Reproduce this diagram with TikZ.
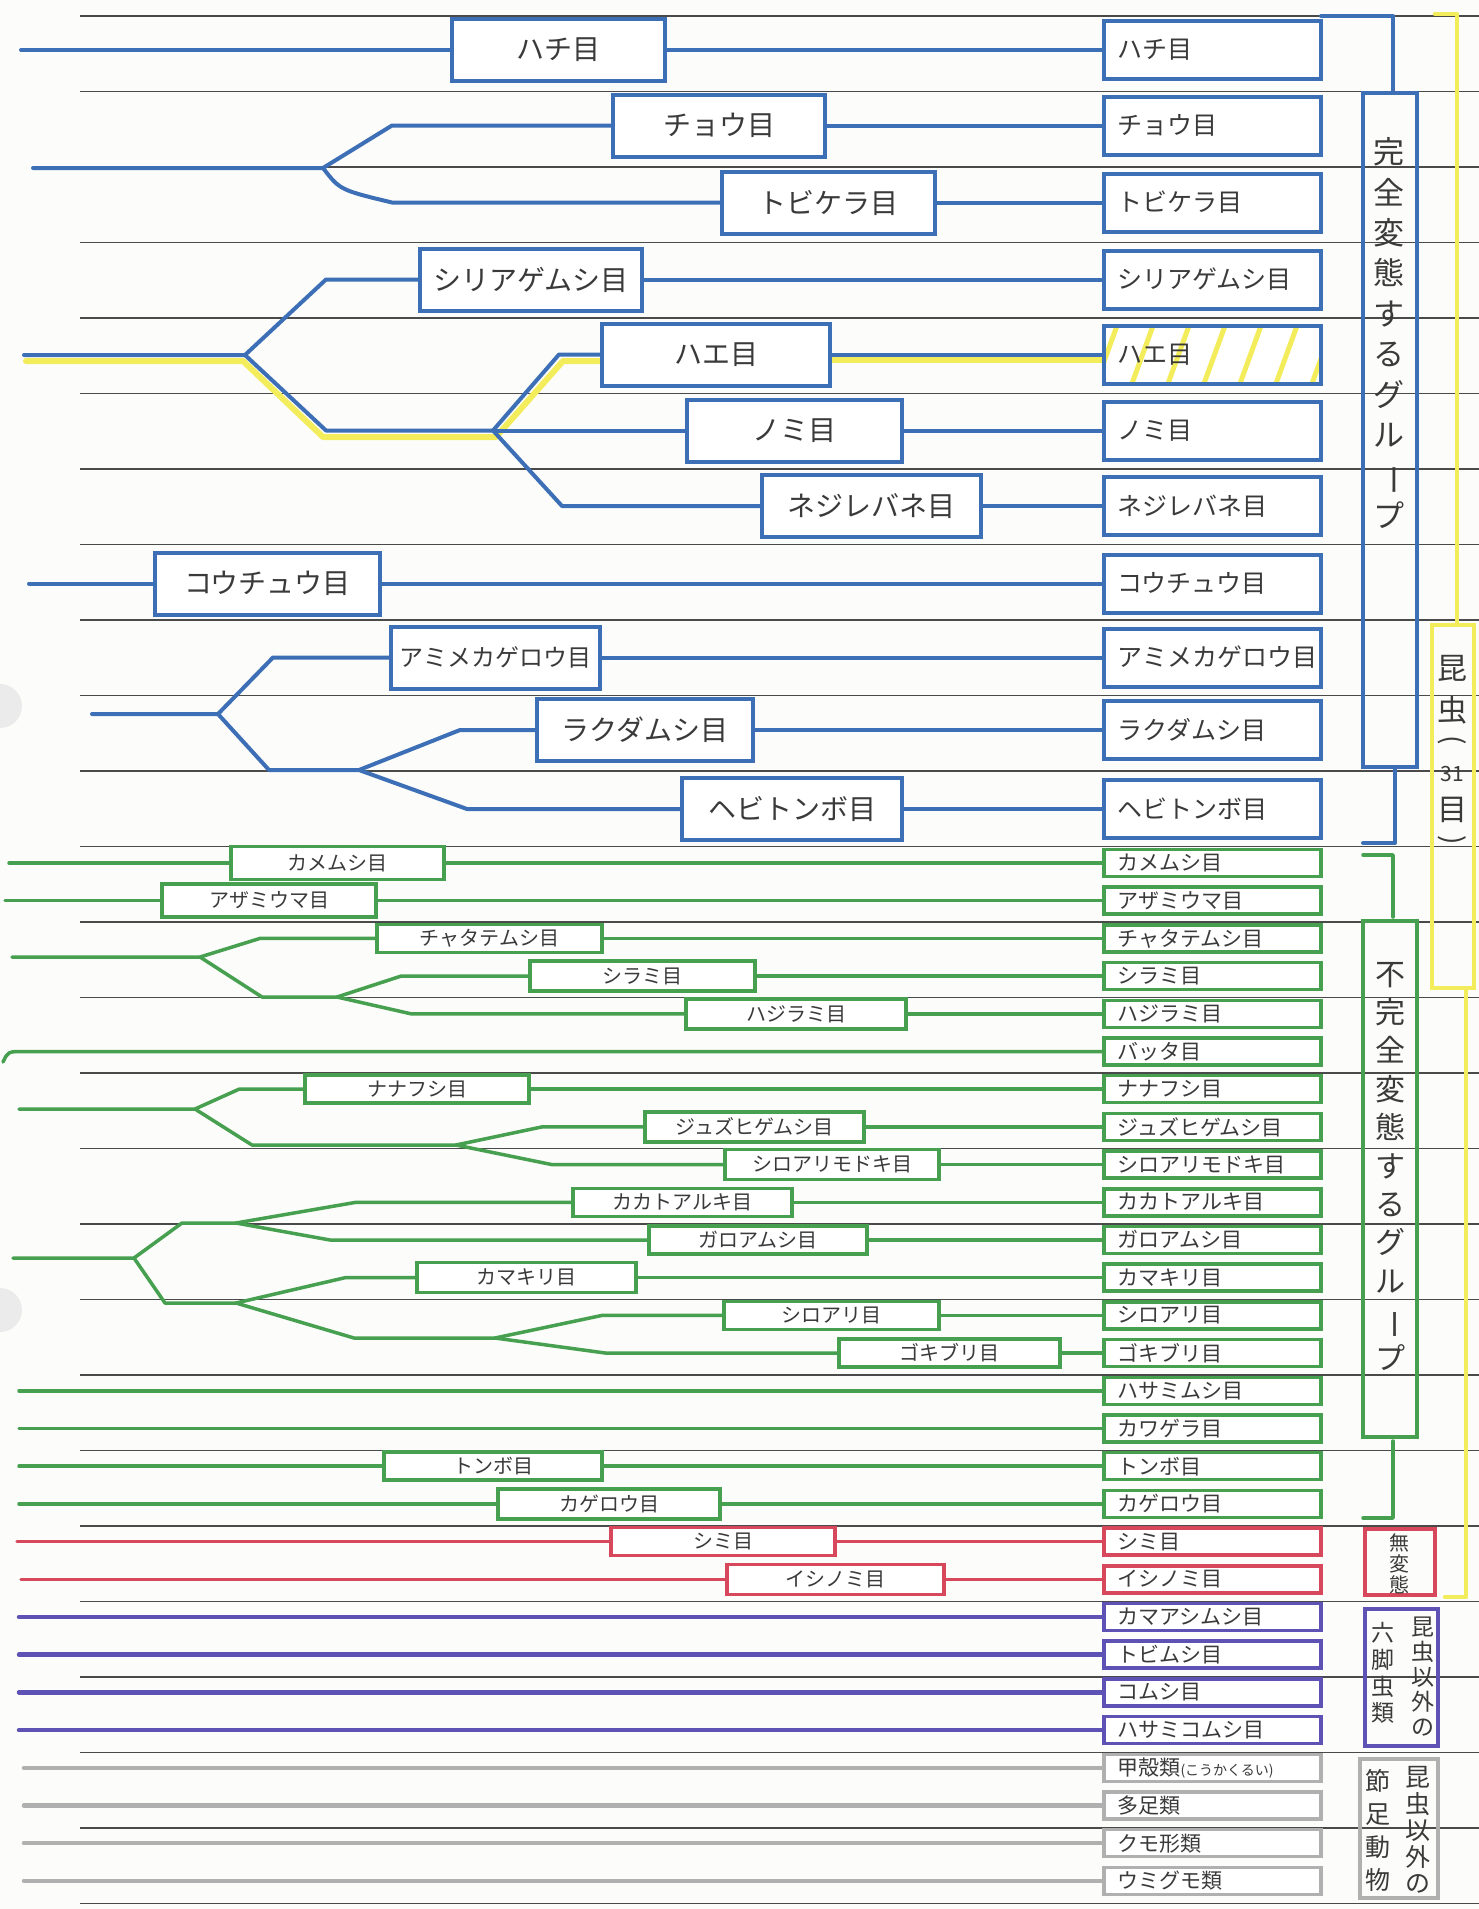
\documentclass[tikz,border=0pt]{standalone}
\usepackage{fontspec}
\usepackage{graphicx}
\setmainfont{Noto Sans CJK JP}
\definecolor{bluec}{HTML}{3D6FB6}
\definecolor{greenc}{HTML}{46A04F}
\definecolor{redc}{HTML}{D8485C}
\definecolor{purplec}{HTML}{5E52B4}
\definecolor{grayc}{HTML}{B0B0B0}
\definecolor{yellowc}{HTML}{F3ED5C}
\definecolor{rulec}{HTML}{4A4A4A}
\definecolor{txtc}{HTML}{3A3A3A}
\definecolor{paperc}{HTML}{FCFCFA}
\newcommand{\lft}[2]{\makebox[#1pt][l]{#2}}
\pgfdeclarelayer{back}
\pgfdeclarelayer{lines}
\pgfsetlayers{back,lines,main}
\begin{document}
\begin{tikzpicture}[x=1pt,y=-1pt,
 ruled/.style={draw=rulec, line width=1.3pt},
 bl/.style={draw=bluec, line width=4pt, line cap=round, line join=round},
 gl/.style={draw=greenc, line width=3.5pt, line cap=round, line join=round},
 rdl/.style={draw=redc, line width=3.5pt, line cap=round},
 pl/.style={draw=purplec, line width=4.5pt, line cap=round},
 gyl/.style={draw=grayc, line width=4.5pt, line cap=round},
 yl/.style={draw=yellowc, line width=6pt, line cap=round, line join=round},
 obox/.style={rectangle, fill=white, inner sep=0pt, text=txtc},
 bb/.style={obox, draw=bluec, line width=4pt, minimum height=62, font=\fontsize{28}{28}\selectfont},
 rb/.style={obox, draw=bluec, line width=4pt, minimum width=217, minimum height=58, font=\fontsize{25}{25}\selectfont},
 gb/.style={obox, draw=greenc, line width=3.5pt, minimum height=28, font=\fontsize{20}{20}\selectfont},
 grb/.style={obox, draw=greenc, line width=3.5pt, minimum width=217, minimum height=27, font=\fontsize{21}{21}\selectfont},
 rlb/.style={obox, draw=redc, line width=3.5pt, minimum height=28, font=\fontsize{20}{20}\selectfont},
 rrb/.style={obox, draw=redc, line width=3.5pt, minimum width=217, minimum height=27, font=\fontsize{21}{21}\selectfont},
 prb/.style={obox, draw=purplec, line width=3.5pt, minimum width=217, minimum height=27, font=\fontsize{21}{21}\selectfont},
 gyrb/.style={obox, draw=grayc, line width=3.5pt, minimum width=217, minimum height=27, font=\fontsize{21}{21}\selectfont},
 grp/.style={rectangle, inner sep=0pt},
 vt/.style={inner sep=0pt, align=center, text=txtc}
]
\useasboundingbox (0,0) rectangle (1479,1909);

% ---------- paper, holes, ruled lines ----------
\begin{pgfonlayer}{back}
\fill[paperc] (0,0) rectangle (1479,1909);
\fill[black!8] (0,706) circle (22);
\fill[black!8] (0,1310) circle (22);
\foreach \i in {0,...,25} \draw[ruled] (80,{16+75.5*\i}) -- (1479,{16+75.5*\i});
\end{pgfonlayer}

% ---------- blue: right column ----------
\node[rb] (Rhachi) at (1212.5,50) {\lft{190}{ハチ目}};
\node[rb] (Rchou) at (1212.5,125.5) {\lft{190}{チョウ目}};
\node[rb] (Rtobi) at (1212.5,202.5) {\lft{190}{トビケラ目}};
\node[rb] (Rshiri) at (1212.5,279.5) {\lft{190}{シリアゲムシ目}};
\node[rb, path picture={\foreach \k in {0,...,6} \draw[yellowc, line width=5pt] ([xshift=\k*36pt-8pt]path picture bounding box.south west) -- ++(24pt,66pt);}] (Rhae) at (1212.5,354.5) {\lft{190}{ハエ目}};
\node[rb] (Rnomi) at (1212.5,430.5) {\lft{190}{ノミ目}};
\node[rb] (Rnejire) at (1212.5,506) {\lft{190}{ネジレバネ目}};
\node[rb] (Rkou) at (1212.5,583.5) {\lft{190}{コウチュウ目}};
\node[rb] (Rami) at (1212.5,657.5) {\lft{190}{アミメカゲロウ目}};
\node[rb] (Rraku) at (1212.5,730) {\lft{190}{ラクダムシ目}};
\node[rb] (Rhebi) at (1212.5,809) {\lft{190}{ヘビトンボ目}};

% ---------- blue: left boxes ----------
\node[bb, minimum width=213] (Lhachi) at (558.5,50) {ハチ目};
\node[bb, minimum width=212] (Lchou) at (719,125.5) {チョウ目};
\node[bb, minimum width=213] (Ltobi) at (828.5,202.5) {トビケラ目};
\node[bb, minimum width=222] (Lshiri) at (531,279.5) {シリアゲムシ目};
\node[bb, minimum width=228] (Lhae) at (716,354.5) {ハエ目};
\node[bb, minimum width=215] (Lnomi) at (794.5,430.5) {ノミ目};
\node[bb, minimum width=219] (Lnejire) at (871.5,506) {ネジレバネ目};
\node[bb, minimum width=225] (Lkou) at (267.5,583.5) {コウチュウ目};
\node[bb, minimum width=209, font=\fontsize{24}{24}\selectfont] (Lami) at (495.5,657.5) {アミメカゲロウ目};
\node[bb, minimum width=216] (Lraku) at (645,730) {ラクダムシ目};
\node[bb, minimum width=220] (Lhebi) at (792,809) {ヘビトンボ目};

% ---------- green: right column ----------
\node[grb] (Rkame) at (1212.5,863.0) {\lft{190}{カメムシ目}};
\node[grb] (Razami) at (1212.5,900.7) {\lft{190}{アザミウマ目}};
\node[grb] (Rchata) at (1212.5,938.4) {\lft{190}{チャタテムシ目}};
\node[grb] (Rshira) at (1212.5,976.1) {\lft{190}{シラミ目}};
\node[grb] (Rhaji) at (1212.5,1013.8) {\lft{190}{ハジラミ目}};
\node[grb] (Rbatta) at (1212.5,1051.5) {\lft{190}{バッタ目}};
\node[grb] (Rnana) at (1212.5,1089.2) {\lft{190}{ナナフシ目}};
\node[grb] (Rjuzu) at (1212.5,1126.9) {\lft{190}{ジュズヒゲムシ目}};
\node[grb] (Rmodoki) at (1212.5,1164.6) {\lft{190}{シロアリモドキ目}};
\node[grb] (Rkaka) at (1212.5,1202.3) {\lft{190}{カカトアルキ目}};
\node[grb] (Rgaroa) at (1212.5,1240.0) {\lft{190}{ガロアムシ目}};
\node[grb] (Rkama) at (1212.5,1277.7) {\lft{190}{カマキリ目}};
\node[grb] (Rshiro) at (1212.5,1315.4) {\lft{190}{シロアリ目}};
\node[grb] (Rgoki) at (1212.5,1353.1) {\lft{190}{ゴキブリ目}};
\node[grb] (Rhasami) at (1212.5,1390.8) {\lft{190}{ハサミムシ目}};
\node[grb] (Rkawa) at (1212.5,1428.5) {\lft{190}{カワゲラ目}};
\node[grb] (Rtonbo) at (1212.5,1466.2) {\lft{190}{トンボ目}};
\node[grb] (Rkagero) at (1212.5,1503.9) {\lft{190}{カゲロウ目}};
\node[rrb] (Rshimi) at (1212.5,1541.6) {\lft{190}{シミ目}};
\node[rrb] (Rishi) at (1212.5,1579.3) {\lft{190}{イシノミ目}};
\node[prb] (Rkamaashi) at (1212.5,1617.0) {\lft{190}{カマアシムシ目}};
\node[prb] (Rtobimushi) at (1212.5,1654.7) {\lft{190}{トビムシ目}};
\node[prb] (Rkomushi) at (1212.5,1692.4) {\lft{190}{コムシ目}};
\node[prb] (Rhasamiko) at (1212.5,1730.1) {\lft{190}{ハサミコムシ目}};
\node[gyrb] (Rkoukaku) at (1212.5,1767.8) {\lft{190}{甲殻類{\fontsize{14}{14}\selectfont (こうかくるい)}}};
\node[gyrb] (Rtasoku) at (1212.5,1805.5) {\lft{190}{多足類}};
\node[gyrb] (Rkumo) at (1212.5,1843.2) {\lft{190}{クモ形類}};
\node[gyrb] (Rumigumo) at (1212.5,1880.9) {\lft{190}{ウミグモ類}};

% ---------- green / red: left boxes ----------
\node[gb, minimum width=213, minimum height=33] (Lkame) at (337.5,863.0) {カメムシ目};
\node[gb, minimum width=214, minimum height=33] (Lazami) at (269,900.7) {アザミウマ目};
\node[gb, minimum width=225] (Lchata) at (489.5,938.4) {チャタテムシ目};
\node[gb, minimum width=225, minimum height=30] (Lshira) at (642.5,976.1) {シラミ目};
\node[gb, minimum width=220, minimum height=30] (Lhaji) at (796,1013.8) {ハジラミ目};
\node[gb, minimum width=224] (Lnana) at (417,1089.2) {ナナフシ目};
\node[gb, minimum width=219, minimum height=30] (Ljuzu) at (754.5,1126.9) {ジュズヒゲムシ目};
\node[gb, minimum width=214, minimum height=30] (Lmodoki) at (832,1164.6) {シロアリモドキ目};
\node[gb, minimum width=219] (Lkaka) at (682.5,1202.3) {カカトアルキ目};
\node[gb, minimum width=218] (Lgaroa) at (758,1240.0) {ガロアムシ目};
\node[gb, minimum width=219, minimum height=30] (Lkama) at (526.5,1277.7) {カマキリ目};
\node[gb, minimum width=215] (Lshiro) at (831.5,1315.4) {シロアリ目};
\node[gb, minimum width=221] (Lgoki) at (949.5,1353.1) {ゴキブリ目};
\node[gb, minimum width=218] (Ltonbo) at (493,1466.2) {トンボ目};
\node[gb, minimum width=222, minimum height=30] (Lkagero) at (609,1503.9) {カゲロウ目};
\node[rlb, minimum width=224] (Lshimi) at (723,1541.6) {シミ目};
\node[rlb, minimum width=217, minimum height=30] (Lishi) at (835.5,1579.3) {イシノミ目};

% ---------- group boxes on the right ----------
\node[grp, draw=bluec, line width=4pt, minimum width=54, minimum height=674] (Bgrp) at (1390,430) {};
\node[vt, font=\fontsize{31}{40.4}\selectfont] at (1389,333) {完\\全\\変\\態\\す\\る\\グ\\ル\\\rotatebox[origin=c]{-90}{ー}\\プ};
\node[grp, draw=greenc, line width=3.5pt, minimum width=54, minimum height=516] (Ggrp) at (1390,1179) {};
\node[vt, font=\fontsize{30}{38.4}\selectfont] at (1390,1166) {不\\完\\全\\変\\態\\す\\る\\グ\\ル\\\rotatebox[origin=c]{-90}{ー}\\プ};
\node[grp, draw=redc, line width=3.5pt, minimum width=70, minimum height=66] (Mgrp) at (1400,1562) {};
\node[vt, font=\fontsize{20}{21}\selectfont] at (1399,1564) {無\\変\\態};
\node[grp, draw=purplec, line width=3.5pt, minimum width=73, minimum height=137] (Pgrp) at (1401.5,1677.5) {};
\node[vt, font=\fontsize{23}{25}\selectfont] at (1423,1677) {昆\\虫\\以\\外\\の};
\node[vt, font=\fontsize{23}{26.7}\selectfont] at (1383,1673) {六\\脚\\虫\\類};
\node[grp, draw=grayc, line width=3.5pt, minimum width=78, minimum height=139] (Agrp) at (1399,1828.5) {};
\node[vt, font=\fontsize{25}{26.5}\selectfont] at (1418,1830) {昆\\虫\\以\\外\\の};
\node[vt, font=\fontsize{25}{33}\selectfont] at (1378,1830) {節\\足\\動\\物};
\node[grp, draw=yellowc, line width=4.5pt, minimum width=42, minimum height=363] (Ygrp) at (1453,806.5) {};
\node[vt, font=\fontsize{30}{30}\selectfont] at (1452,668) {昆};
\node[vt, font=\fontsize{30}{30}\selectfont] at (1452,710) {虫};
\node[vt, font=\fontsize{28}{28}\selectfont] at (1452,742) {\rotatebox[origin=c]{-90}{(}};
\node[vt, font=\fontsize{21}{21}\selectfont] at (1452,774) {31};
\node[vt, font=\fontsize{30}{30}\selectfont] at (1452,810) {目};
\node[vt, font=\fontsize{28}{28}\selectfont] at (1452,842) {\rotatebox[origin=c]{-90}{)}};

% ---------- connectors ----------
\begin{pgfonlayer}{lines}
% brackets
\draw[bl] (1321,16) -- (1393,16) -- (1393,91);
\draw[bl] (1395,769) -- (1395,843) -- (1363,843);
\draw[gl] (1363,855) -- (1393,855) -- (1393,917);
\draw[gl] (1393,1441) -- (1393,1518) -- (1363,1518);
\draw[yl, line width=4.5pt] (1435,14) -- (1457,14) -- (1457,623);
\draw[yl, line width=4.5pt] (1466,990) -- (1466,1597) -- (1445,1597);

% yellow highlight path
\draw[yl] (26,361) -- (243,361) -- (323,437) -- (496,437) -- (563,361) -- (Lhae.west |- 0,361);
\draw[yl] (Lhae.east |- 0,360) -- (Rhae.west |- 0,360);

% blue tree
\draw[bl] (21,50) -- (Lhachi.west);
\draw[bl] (Lhachi.east) -- (Rhachi.west);

\coordinate (n1) at (323,168);
\draw[bl] (33,168) -- (n1) -- (392,125.5) -- (Lchou.west);
\draw[bl] (n1) .. controls (340,190) .. (392,202.5) -- (Ltobi.west);
\draw[bl] (Lchou.east) -- (Rchou.west);
\draw[bl] (Ltobi.east) -- (Rtobi.west);

\coordinate (nA) at (245,355);
\coordinate (nB) at (493,430.5);
\draw[bl] (24,355) -- (nA) -- (326,279.5) -- (Lshiri.west);
\draw[bl] (nA) -- (326,430.5) -- (nB);
\draw[bl] (nB) -- (559,354.5) -- (Lhae.west);
\draw[bl] (nB) -- (Lnomi.west);
\draw[bl] (nB) -- (562,506) -- (Lnejire.west);
\draw[bl] (Lshiri.east) -- (Rshiri.west);
\draw[bl] (Lhae.east) -- (Rhae.west);
\draw[bl] (Lnomi.east) -- (Rnomi.west);
\draw[bl] (Lnejire.east) -- (Rnejire.west);

\draw[bl] (29,583.5) -- (Lkou.west);
\draw[bl] (Lkou.east) -- (Rkou.west);

\coordinate (nC) at (218,714);
\coordinate (nD) at (359,770);
\draw[bl] (92,714) -- (nC) -- (273,657.5) -- (Lami.west);
\draw[bl] (nC) -- (269,770) -- (nD);
\draw[bl] (nD) -- (460,730) -- (Lraku.west);
\draw[bl] (nD) -- (467,809) -- (Lhebi.west);
\draw[bl] (Lami.east) -- (Rami.west);
\draw[bl] (Lraku.east) -- (Rraku.west);
\draw[bl] (Lhebi.east) -- (Rhebi.west);

% green tree
\draw[gl] (9,863) -- (Lkame.west);
\draw[gl] (Lkame.east) -- (Rkame.west);
\draw[gl] (5,900.7) -- (Lazami.west);
\draw[gl] (Lazami.east) -- (Razami.west);

\coordinate (nE) at (200,957);
\coordinate (nF) at (337,997);
\draw[gl] (12,957) -- (nE) -- (260,938.4) -- (Lchata.west);
\draw[gl] (nE) -- (262,997) -- (nF);
\draw[gl] (nF) -- (401,976.1) -- (Lshira.west);
\draw[gl] (nF) -- (411,1013.8) -- (Lhaji.west);
\draw[gl] (Lchata.east) -- (Rchata.west);
\draw[gl] (Lshira.east) -- (Rshira.west);
\draw[gl] (Lhaji.east) -- (Rhaji.west);

\draw[gl] (3,1062) .. controls (8,1051.5) .. (24,1051.5) -- (Rbatta.west);

\coordinate (nG) at (195,1109);
\coordinate (nH) at (456,1145);
\draw[gl] (19,1109) -- (nG) -- (239,1089.2) -- (Lnana.west);
\draw[gl] (nG) -- (252,1145) -- (nH);
\draw[gl] (nH) -- (542,1126.9) -- (Ljuzu.west);
\draw[gl] (nH) -- (552,1164.6) -- (Lmodoki.west);
\draw[gl] (Lnana.east) -- (Rnana.west);
\draw[gl] (Ljuzu.east) -- (Rjuzu.west);
\draw[gl] (Lmodoki.east) -- (Rmodoki.west);

\coordinate (nI) at (134,1258);
\coordinate (nJ) at (236,1223);
\coordinate (nK) at (236,1303);
\coordinate (nL) at (495,1338);
\draw[gl] (13,1258) -- (nI) -- (182,1223) -- (nJ);
\draw[gl] (nJ) -- (356,1202.3) -- (Lkaka.west);
\draw[gl] (nJ) -- (330,1240) -- (Lgaroa.west);
\draw[gl] (nI) -- (165,1303) -- (nK);
\draw[gl] (nK) -- (345,1277.7) -- (Lkama.west);
\draw[gl] (nK) -- (354,1338) -- (nL);
\draw[gl] (nL) -- (602,1315.4) -- (Lshiro.west);
\draw[gl] (nL) -- (606,1353.1) -- (Lgoki.west);
\draw[gl] (Lkaka.east) -- (Rkaka.west);
\draw[gl] (Lgaroa.east) -- (Rgaroa.west);
\draw[gl] (Lkama.east) -- (Rkama.west);
\draw[gl] (Lshiro.east) -- (Rshiro.west);
\draw[gl] (Lgoki.east) -- (Rgoki.west);

\draw[gl] (19,1390.8) -- (Rhasami.west);
\draw[gl] (19,1428.5) -- (Rkawa.west);
\draw[gl] (19,1466.2) -- (Ltonbo.west);
\draw[gl] (Ltonbo.east) -- (Rtonbo.west);
\draw[gl] (19,1503.9) -- (Lkagero.west);
\draw[gl] (Lkagero.east) -- (Rkagero.west);

% red
\draw[rdl] (17,1541.6) -- (Lshimi.west);
\draw[rdl] (Lshimi.east) -- (Rshimi.west);
\draw[rdl] (21,1579.3) -- (Lishi.west);
\draw[rdl] (Lishi.east) -- (Rishi.west);

% purple
\draw[pl] (19,1617.0) -- (Rkamaashi.west);
\draw[pl] (19,1654.7) -- (Rtobimushi.west);
\draw[pl] (19,1692.4) -- (Rkomushi.west);
\draw[pl] (19,1730.1) -- (Rhasamiko.west);

% gray
\draw[gyl] (24,1767.8) -- (Rkoukaku.west);
\draw[gyl] (24,1805.5) -- (Rtasoku.west);
\draw[gyl] (24,1843.2) -- (Rkumo.west);
\draw[gyl] (24,1880.9) -- (Rumigumo.west);
\end{pgfonlayer}
\end{tikzpicture}
\end{document}
